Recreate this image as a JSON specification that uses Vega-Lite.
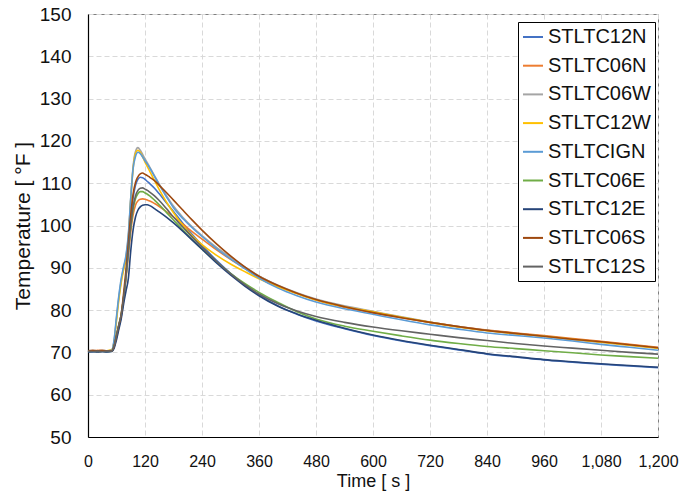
{
  "$schema": "https://vega.github.io/schema/vega-lite/v6.json",
  "autosize": {"type": "none"},
  "width": 570,
  "height": 423,
  "padding": {"left": 88, "top": 14, "right": 27, "bottom": 67},
  "background": "white",
  "config": {
    "view": {"stroke": "#7f7f7f", "strokeWidth": 1},
    "font": "Liberation Sans"
  },
  "data": {
    "values": [
      {"t":0,"STLTC12N":70.2,"STLTC06N":70.4,"STLTC06W":70.3,"STLTC12W":70.4,"STLTCIGN":70.3,"STLTC06E":70.2,"STLTC12E":70.1,"STLTC06S":70.4,"STLTC12S":70.3},
      {"t":10,"STLTC12N":70.1,"STLTC06N":70.3,"STLTC06W":70.4,"STLTC12W":70.3,"STLTCIGN":70.2,"STLTC06E":70.3,"STLTC12E":70.2,"STLTC06S":70.5,"STLTC12S":70.2},
      {"t":20,"STLTC12N":70.3,"STLTC06N":70.5,"STLTC06W":70.2,"STLTC12W":70.4,"STLTCIGN":70.3,"STLTC06E":70.2,"STLTC12E":70.1,"STLTC06S":70.4,"STLTC12S":70.3},
      {"t":30,"STLTC12N":70.2,"STLTC06N":70.4,"STLTC06W":70.4,"STLTC12W":70.3,"STLTCIGN":70.2,"STLTC06E":70.3,"STLTC12E":70.2,"STLTC06S":70.5,"STLTC12S":70.2},
      {"t":40,"STLTC12N":70.2,"STLTC06N":70.3,"STLTC06W":70.3,"STLTC12W":70.4,"STLTCIGN":70.3,"STLTC06E":70.2,"STLTC12E":70.1,"STLTC06S":70.4,"STLTC12S":70.3},
      {"t":50,"STLTC12N":70.3,"STLTC06N":70.5,"STLTC06W":70.6,"STLTC12W":70.6,"STLTCIGN":70.5,"STLTC06E":70.3,"STLTC12E":70.2,"STLTC06S":70.4,"STLTC12S":70.3},
      {"t":55,"STLTC12N":71.3,"STLTC06N":71.5,"STLTC06W":72.8,"STLTC12W":72.5,"STLTCIGN":73,"STLTC06E":71.5,"STLTC12E":71,"STLTC06S":71.5,"STLTC12S":71.5},
      {"t":60,"STLTC12N":73.5,"STLTC06N":74,"STLTC06W":78,"STLTC12W":77.5,"STLTCIGN":78.5,"STLTC06E":74,"STLTC12E":73,"STLTC06S":74,"STLTC12S":74},
      {"t":65,"STLTC12N":76,"STLTC06N":76.5,"STLTC06W":83,"STLTC12W":82.5,"STLTCIGN":83.5,"STLTC06E":76.5,"STLTC12E":75.5,"STLTC06S":76.5,"STLTC12S":76.5},
      {"t":70,"STLTC12N":78.5,"STLTC06N":79,"STLTC06W":87,"STLTC12W":86.5,"STLTCIGN":87.5,"STLTC06E":79,"STLTC12E":78,"STLTC06S":79,"STLTC12S":79},
      {"t":75,"STLTC12N":82.5,"STLTC06N":83,"STLTC06W":90,"STLTC12W":89.5,"STLTCIGN":90.3,"STLTC06E":83,"STLTC12E":81.5,"STLTC06S":84,"STLTC12S":83},
      {"t":80,"STLTC12N":88,"STLTC06N":87.5,"STLTC06W":92.6,"STLTC12W":92,"STLTCIGN":93,"STLTC06E":88,"STLTC12E":84.5,"STLTC06S":89.5,"STLTC12S":88},
      {"t":85,"STLTC12N":95,"STLTC06N":93,"STLTC06W":97.5,"STLTC12W":97,"STLTCIGN":98,"STLTC06E":94,"STLTC12E":87.5,"STLTC06S":96,"STLTC12S":94},
      {"t":90,"STLTC12N":101.5,"STLTC06N":98.5,"STLTC06W":106.5,"STLTC12W":106,"STLTCIGN":106.5,"STLTC06E":99.5,"STLTC12E":94,"STLTC06S":102.5,"STLTC12S":100},
      {"t":95,"STLTC12N":106.5,"STLTC06N":102.5,"STLTC06W":114,"STLTC12W":113.5,"STLTCIGN":113.5,"STLTC06E":103.8,"STLTC12E":99,"STLTC06S":107.5,"STLTC12S":104.5},
      {"t":100,"STLTC12N":109.5,"STLTC06N":104.8,"STLTC06W":117.5,"STLTC12W":117,"STLTCIGN":116.3,"STLTC06E":106.3,"STLTC12E":102,"STLTC06S":110.2,"STLTC12S":107},
      {"t":105,"STLTC12N":110.9,"STLTC06N":105.8,"STLTC06W":118.4,"STLTC12W":117.8,"STLTCIGN":117.3,"STLTC06E":107.5,"STLTC12E":103.6,"STLTC06S":111.5,"STLTC12S":108.3},
      {"t":110,"STLTC12N":111.4,"STLTC06N":106.2,"STLTC06W":117.8,"STLTC12W":117.3,"STLTCIGN":117,"STLTC06E":108,"STLTC12E":104.4,"STLTC06S":112.2,"STLTC12S":108.8},
      {"t":115,"STLTC12N":111.3,"STLTC06N":106.3,"STLTC06W":116.8,"STLTC12W":116.2,"STLTCIGN":116.2,"STLTC06E":108,"STLTC12E":104.8,"STLTC06S":112.4,"STLTC12S":108.9},
      {"t":120,"STLTC12N":110.9,"STLTC06N":106.2,"STLTC06W":115.8,"STLTC12W":115,"STLTCIGN":115.3,"STLTC06E":107.7,"STLTC12E":104.9,"STLTC06S":112.1,"STLTC12S":108.6},
      {"t":125,"STLTC12N":110.4,"STLTC06N":106,"STLTC06W":114.8,"STLTC12W":113.9,"STLTCIGN":114.5,"STLTC06E":107.4,"STLTC12E":104.9,"STLTC06S":111.8,"STLTC12S":108.3},
      {"t":130,"STLTC12N":109.9,"STLTC06N":105.8,"STLTC06W":113.8,"STLTC12W":112.8,"STLTCIGN":113.6,"STLTC06E":107,"STLTC12E":104.7,"STLTC06S":111.4,"STLTC12S":107.9},
      {"t":140,"STLTC12N":108.8,"STLTC06N":105.2,"STLTC06W":111.8,"STLTC12W":110.6,"STLTCIGN":111.6,"STLTC06E":106,"STLTC12E":104,"STLTC06S":110.6,"STLTC12S":107},
      {"t":150,"STLTC12N":107.5,"STLTC06N":104.5,"STLTC06W":109.8,"STLTC12W":108.5,"STLTCIGN":109.6,"STLTC06E":104.9,"STLTC12E":103.2,"STLTC06S":109.5,"STLTC12S":105.9},
      {"t":165,"STLTC12N":105.4,"STLTC06N":103.3,"STLTC06W":107.1,"STLTC12W":105.6,"STLTCIGN":106.8,"STLTC06E":103.1,"STLTC12E":102,"STLTC06S":107.8,"STLTC12S":104},
      {"t":180,"STLTC12N":103.3,"STLTC06N":102,"STLTC06W":104.6,"STLTC12W":103,"STLTCIGN":104.2,"STLTC06E":101.3,"STLTC12E":100.6,"STLTC06S":106,"STLTC12S":102},
      {"t":200,"STLTC12N":100.5,"STLTC06N":100.3,"STLTC06W":101.9,"STLTC12W":100,"STLTCIGN":101.6,"STLTC06E":98.9,"STLTC12E":98.6,"STLTC06S":103.6,"STLTC12S":99.6},
      {"t":220,"STLTC12N":97.8,"STLTC06N":98.5,"STLTC06W":99.6,"STLTC12W":97.5,"STLTCIGN":99.4,"STLTC06E":96.6,"STLTC12E":96.5,"STLTC06S":101.2,"STLTC12S":97.2},
      {"t":240,"STLTC12N":95.3,"STLTC06N":96.8,"STLTC06W":97.6,"STLTC12W":95.5,"STLTCIGN":97.4,"STLTC06E":94.4,"STLTC12E":94.4,"STLTC06S":98.9,"STLTC12S":94.9},
      {"t":270,"STLTC12N":91.8,"STLTC06N":94.3,"STLTC06W":94.9,"STLTC12W":93,"STLTCIGN":94.6,"STLTC06E":91.4,"STLTC12E":91.2,"STLTC06S":95.7,"STLTC12S":91.6},
      {"t":300,"STLTC12N":88.7,"STLTC06N":92,"STLTC06W":92.5,"STLTC12W":90.9,"STLTCIGN":92.1,"STLTC06E":88.7,"STLTC12E":88.3,"STLTC06S":92.8,"STLTC12S":88.6},
      {"t":330,"STLTC12N":86,"STLTC06N":89.9,"STLTC06W":90.2,"STLTC12W":89.1,"STLTCIGN":89.8,"STLTC06E":86.3,"STLTC12E":85.7,"STLTC06S":90.2,"STLTC12S":86},
      {"t":360,"STLTC12N":83.6,"STLTC06N":88,"STLTC06W":88.1,"STLTC12W":87.4,"STLTCIGN":87.6,"STLTC06E":84.2,"STLTC12E":83.4,"STLTC06S":88,"STLTC12S":83.8},
      {"t":400,"STLTC12N":81,"STLTC06N":85.7,"STLTC06W":85.9,"STLTC12W":85.5,"STLTCIGN":85.2,"STLTC06E":81.8,"STLTC12E":80.9,"STLTC06S":85.8,"STLTC12S":81.5},
      {"t":440,"STLTC12N":79,"STLTC06N":83.9,"STLTC06W":84.1,"STLTC12W":83.9,"STLTCIGN":83.4,"STLTC06E":79.6,"STLTC12E":79.1,"STLTC06S":84,"STLTC12S":79.8},
      {"t":480,"STLTC12N":77.4,"STLTC06N":82.4,"STLTC06W":82.6,"STLTC12W":82.4,"STLTCIGN":81.9,"STLTC06E":77.9,"STLTC12E":77.6,"STLTC06S":82.5,"STLTC12S":78.5},
      {"t":540,"STLTC12N":75.6,"STLTC06N":80.7,"STLTC06W":81,"STLTC12W":80.8,"STLTCIGN":80.3,"STLTC06E":76.2,"STLTC12E":75.7,"STLTC06S":80.8,"STLTC12S":77.1},
      {"t":600,"STLTC12N":74,"STLTC06N":79.4,"STLTC06W":79.7,"STLTC12W":79.6,"STLTCIGN":79,"STLTC06E":75,"STLTC12E":74.1,"STLTC06S":79.4,"STLTC12S":76},
      {"t":660,"STLTC12N":72.7,"STLTC06N":78.2,"STLTC06W":78.4,"STLTC12W":78.3,"STLTCIGN":77.7,"STLTC06E":73.9,"STLTC12E":72.8,"STLTC06S":78.2,"STLTC12S":75.1},
      {"t":720,"STLTC12N":71.6,"STLTC06N":77.1,"STLTC06W":77.2,"STLTC12W":77.1,"STLTCIGN":76.5,"STLTC06E":72.9,"STLTC12E":71.7,"STLTC06S":77.1,"STLTC12S":74.3},
      {"t":780,"STLTC12N":70.6,"STLTC06N":76.1,"STLTC06W":76.1,"STLTC12W":76,"STLTCIGN":75.5,"STLTC06E":72.1,"STLTC12E":70.7,"STLTC06S":76.1,"STLTC12S":73.5},
      {"t":840,"STLTC12N":69.6,"STLTC06N":75.3,"STLTC06W":75.2,"STLTC12W":75.1,"STLTCIGN":74.6,"STLTC06E":71.4,"STLTC12E":69.7,"STLTC06S":75.2,"STLTC12S":72.8},
      {"t":900,"STLTC12N":68.9,"STLTC06N":74.6,"STLTC06W":74.4,"STLTC12W":74.4,"STLTCIGN":74,"STLTC06E":70.9,"STLTC12E":69,"STLTC06S":74.5,"STLTC12S":72.1},
      {"t":960,"STLTC12N":68.2,"STLTC06N":74,"STLTC06W":73.8,"STLTC12W":73.8,"STLTCIGN":73.4,"STLTC06E":70.4,"STLTC12E":68.3,"STLTC06S":73.8,"STLTC12S":71.5},
      {"t":1020,"STLTC12N":67.7,"STLTC06N":73.3,"STLTC06W":73,"STLTC12W":73.1,"STLTCIGN":72.7,"STLTC06E":69.9,"STLTC12E":67.8,"STLTC06S":73.1,"STLTC12S":71},
      {"t":1080,"STLTC12N":67.2,"STLTC06N":72.6,"STLTC06W":72.4,"STLTC12W":72.4,"STLTCIGN":71.9,"STLTC06E":69.4,"STLTC12E":67.3,"STLTC06S":72.5,"STLTC12S":70.5},
      {"t":1140,"STLTC12N":66.8,"STLTC06N":71.9,"STLTC06W":71.7,"STLTC12W":71.7,"STLTCIGN":71.2,"STLTC06E":69,"STLTC12E":66.9,"STLTC06S":71.8,"STLTC12S":70},
      {"t":1200,"STLTC12N":66.4,"STLTC06N":71.2,"STLTC06W":71,"STLTC12W":71,"STLTCIGN":70.5,"STLTC06E":68.6,"STLTC12E":66.5,"STLTC06S":71.1,"STLTC12S":69.6}
    ]
  },
  "transform": [
    {"fold": ["STLTC12N","STLTC06N","STLTC06W","STLTC12W","STLTCIGN","STLTC06E","STLTC12E","STLTC06S","STLTC12S"], "as": ["series","temp"]}
  ],
  "mark": {"type": "line", "strokeWidth": 1.6, "interpolate": "monotone"},
  "encoding": {
    "x": {
      "field": "t", "type": "quantitative",
      "scale": {"domain": [0, 1200], "nice": false},
      "axis": {
        "title": "Time [ s ]",
        "values": [0,120,240,360,480,600,720,840,960,1080,1200],
        "format": ",d",
        "ticks": false,
        "domainColor": "#000000", "domainWidth": 1.2,
        "grid": true, "gridColor": "#d9d9d9", "gridDash": [5,3], "gridWidth": 1,
        "labelFont": "Liberation Sans", "labelFontSize": 16, "labelColor": "#111111",
        "labelPadding": 16, "labelFlush": false, "labelOverlap": false,
        "titleFont": "Liberation Sans", "titleFontSize": 18, "titleFontWeight": "normal", "titleColor": "#111111",
        "titlePadding": 3
      }
    },
    "y": {
      "field": "temp", "type": "quantitative",
      "scale": {"domain": [50, 150], "nice": false, "zero": false},
      "axis": {
        "title": "Temperature [ °F ]",
        "values": [50,60,70,80,90,100,110,120,130,140,150],
        "ticks": false,
        "domainColor": "#000000", "domainWidth": 1.2,
        "grid": true, "gridColor": "#d9d9d9", "gridDash": [5,3], "gridWidth": 1,
        "labelFont": "Liberation Sans", "labelFontSize": 19, "labelColor": "#111111",
        "labelPadding": 17, "labelOverlap": false,
        "titleFont": "Liberation Sans", "titleFontSize": 21, "titleFontWeight": "normal", "titleColor": "#111111",
        "titlePadding": 6
      }
    },
    "color": {
      "field": "series", "type": "nominal",
      "scale": {
        "domain": ["STLTC12N","STLTC06N","STLTC06W","STLTC12W","STLTCIGN","STLTC06E","STLTC12E","STLTC06S","STLTC12S"],
        "range": ["#4472C4","#ED7D31","#A5A5A5","#FFC000","#5B9BD5","#70AD47","#264478","#9E480E","#636363"]
      },
      "legend": {
        "title": null,
        "orient": "none",
        "legendX": 430,
        "legendY": 8,
        "symbolType": "stroke",
        "symbolSize": 400,
        "symbolStrokeWidth": 2,
        "labelFont": "Liberation Sans",
        "labelFontSize": 20,
        "labelColor": "#111111",
        "labelOffset": 4,
        "rowPadding": 7.7,
        "padding": 4,
        "strokeColor": "#000000",
        "fillColor": "#ffffff"
      }
    }
  }
}
